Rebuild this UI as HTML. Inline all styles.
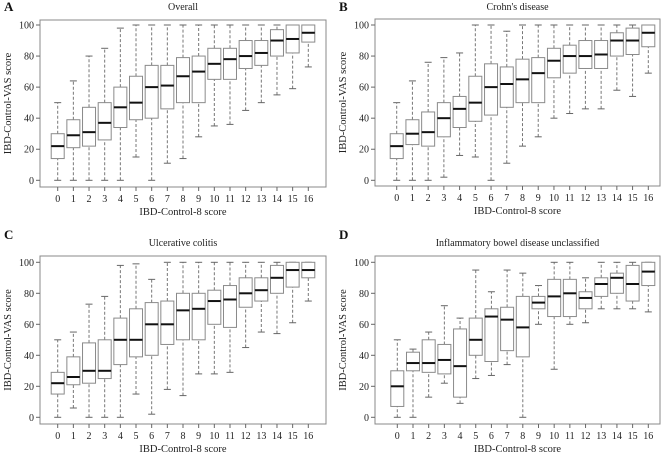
<!DOCTYPE html>
<html><head><meta charset="utf-8"><style>
html,body{margin:0;padding:0;background:#fff;}
svg{display:block;font-family:"Liberation Serif",serif;}
</style></head><body>
<svg id="chart" width="667" height="458" viewBox="0 0 667 458" xmlns="http://www.w3.org/2000/svg"></svg>
<script>
const categories=[0,1,2,3,4,5,6,7,8,9,10,11,12,13,14,15,16];
const yTicks=[0,20,40,60,80,100];
// each row: [lowWhisker, q1, median, q3, highWhisker]
const overallStats=[[0,14,22,30,50],[0,21,29,39,64],[0,22,31,47,80],[0,26,37,50,85],[0,34,47,60,98],[15,39,50,67,100],[0,40,60,74,100],[11,46,61,74,100],[14,50,67,79,100],[28,50,70,80,100],[35,65,75,85,100],[36,65,78,85,100],[45,72,80,90,100],[50,74,82,90,100],[55,80,90,97,100],[59,82,91,100,100],[73,89,95,100,100]];
const crohnStats=[[0,14,22,30,50],[0,23,30,39,64],[0,22,31,44,76],[2,28,40,50,79],[16,34,46,54,82],[15,38,50,67,100],[0,42,60,75,100],[11,47,62,73,96],[22,50,65,78,100],[28,50,69,79,100],[40,66,77,85,100],[43,69,80,87,100],[46,72,80,90,100],[46,72,81,90,100],[58,80,90,95,100],[54,81,90,98,100],[69,86,95,100,100]];
const ucStats=[[0,15,22,29,50],[6,21,26,39,55],[0,22,30,48,73],[0,25,30,50,78],[0,34,50,64,98],[15,39,50,70,99],[2,40,60,74,89],[18,47,60,75,100],[14,50,69,80,100],[28,50,70,80,100],[28,60,75,82,100],[29,58,76,85,100],[45,71,80,90,100],[55,75,82,90,100],[54,80,90,98,100],[61,84,95,100,100],[75,90,95,100,100]];
const ibduStats=[[0,7,20,30,50],[0,30,35,42,44],[13,29,35,50,55],[22,28,37,47,72],[9,13,33,57,64],[25,40,50,64,95],[27,36,65,70,81],[34,43,63,71,95],[0,39,58,78,93],[60,70,74,78,85],[31,65,78,89,100],[60,65,80,89,100],[61,70,77,81,90],[70,78,86,90,100],[70,80,90,93,100],[70,75,86,98,100],[68,85,94,100,100]];
const panelLetters=["A","B","C","D"];
const panelTitles=["Overall","Crohn's disease","Ulcerative colitis","Inflammatory bowel disease unclassified"];

const NS="http://www.w3.org/2000/svg";
const svg=document.getElementById('chart');
function mk(tag,attrs,parent){const e=document.createElementNS(NS,tag);for(const k in attrs)e.setAttribute(k,attrs[k]);(parent||svg).appendChild(e);return e;}

const panels=[
 {stats:overallStats,fl:40,fr:326,ft:20,fb:187,x0:57.7,x16:308.3,y0:180.3,y100:25,ox:0,oy:0},
 {stats:crohnStats,fl:375,fr:660,ft:19,fb:186,x0:396.7,x16:648.3,y0:180.3,y100:25,ox:335,oy:0},
 {stats:ucStats,fl:40,fr:326,ft:256,fb:424,x0:57.7,x16:308.3,y0:417.3,y100:262.3,ox:0,oy:228},
 {stats:ibduStats,fl:375,fr:660,ft:256,fb:424,x0:397.3,x16:648.3,y0:417.3,y100:262.3,ox:335,oy:228}
];

panels.forEach((p,pi)=>{
 const g=mk('g',{});
 
 
 const xs=i=>p.x0+(p.x16-p.x0)*i/(categories.length-1);
 const ys=v=>p.y0+(p.y100-p.y0)*v/100;
 const L=mk('text',{x:p.ox+4,y:p.oy+11,'font-size':13,'font-weight':'bold',fill:'#111'},g);L.textContent=panelLetters[pi];
 
 const T=mk('text',{x:(p.fl+p.fr)/2,y:p.ft-7+(pi>=2?-3:0)+ (pi<2?0:0),'font-size':10,'text-anchor':'middle',fill:'#222'},g);T.textContent=panelTitles[pi];
 T.setAttribute('y',pi<2?10:p.oy+18);
 
 const F=mk('rect',{x:p.fl,y:p.ft,width:p.fr-p.fl,height:p.fb-p.ft,fill:'none',stroke:'#888','stroke-width':1},g);
 
 yTicks.forEach(t=>{
  const y=ys(t);
  const tk=mk('line',{x1:p.fl-4,x2:p.fl,y1:y,y2:y,stroke:'#666'},g);
  
  const tl=mk('text',{x:p.fl-6,y:y+3.5,'font-size':10,'text-anchor':'end',fill:'#222'},g);tl.textContent=t;
  
 });
 categories.forEach((c,i)=>{
  const x=xs(i);
  const tk=mk('line',{x1:x,x2:x,y1:p.fb,y2:p.fb+4,stroke:'#666'},g);
  
  const tl=mk('text',{x:x,y:p.fb+15,'font-size':10,'text-anchor':'middle',fill:'#222'},g);tl.textContent=c;
  
  const s=p.stats[i];const hw=6.5;
  const bg=mk('g',{},g);
  
  mk('line',{x1:x,x2:x,y1:ys(s[0]),y2:ys(s[1]),stroke:'#777','stroke-dasharray':'3,2'},bg);
  mk('line',{x1:x,x2:x,y1:ys(s[3]),y2:ys(s[4]),stroke:'#777','stroke-dasharray':'3,2'},bg);
  mk('line',{x1:x-3.5,x2:x+3.5,y1:ys(s[0]),y2:ys(s[0]),stroke:'#666'},bg);
  mk('line',{x1:x-3.5,x2:x+3.5,y1:ys(s[4]),y2:ys(s[4]),stroke:'#666'},bg);
  mk('rect',{x:x-hw,y:ys(s[3]),width:2*hw,height:ys(s[1])-ys(s[3]),fill:'#fff',stroke:'#8a8a8a'},bg);
  mk('line',{x1:x-hw,x2:x+hw,y1:ys(s[2]),y2:ys(s[2]),stroke:'#111','stroke-width':2},bg);
 });
 const xt=mk('text',{x:(p.fl+p.fr)/2,y:p.fb+28,'font-size':10.5,'text-anchor':'middle',fill:'#222'},g);xt.textContent='IBD-Control-8 score';
 
 const cy=(p.ft+p.fb)/2;const cx=p.ox+11;
 const yt=mk('text',{x:cx,y:cy,'font-size':10.5,'text-anchor':'middle',fill:'#222',transform:`rotate(-90 ${cx} ${cy})`},g);yt.textContent='IBD-Control-VAS score';
 
});
</script>
</body></html>
